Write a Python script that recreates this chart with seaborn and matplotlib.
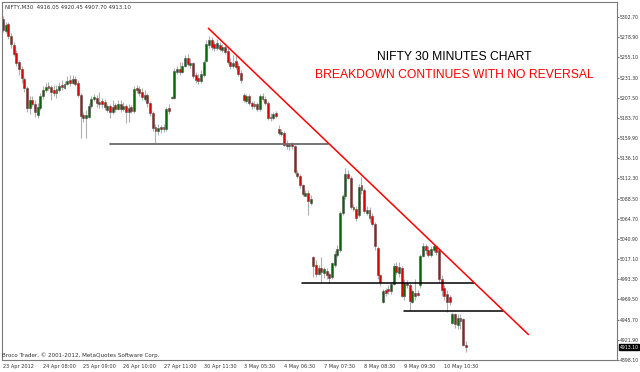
import numpy as np
import pandas as pd
import matplotlib
matplotlib.use("Agg")
import matplotlib.pyplot as plt
import matplotlib.transforms as mtransforms
import seaborn as sns

# NIFTY M30 candles, 23 Apr - 11 May 2012
opens = [5300, 5286, 5294, 5280, 5270, 5260, 5250, 5241, 5230, 5219,
         5195, 5205, 5200, 5187, 5195, 5210, 5217, 5221, 5220, 5217,
         5213, 5217, 5223, 5219, 5224, 5228, 5225, 5230, 5225, 5211,
         5187, 5183, 5185, 5198, 5206, 5207, 5203, 5204, 5203, 5193,
         5198, 5191, 5199, 5194, 5200, 5194, 5198, 5191, 5197, 5192,
         5219, 5218, 5214, 5206, 5211, 5201, 5190, 5173, 5168, 5173,
         5170, 5171, 5195, 5207, 5207, 5238, 5241, 5238, 5245, 5254,
         5246, 5248, 5234, 5231, 5227, 5234, 5251, 5270, 5276, 5271,
         5266, 5270, 5264, 5267, 5263, 5250, 5245, 5251, 5245, 5237,
         5211, 5204, 5210, 5201, 5198, 5200, 5194, 5210, 5206, 5201,
         5185, 5183, 5190, 5171, 5165, 5166, 5153, 5150, 5153, 5150,
         5119, 5115, 5104, 5092, 5095, 5083, 5019, 5010, 5000, 5007,
         5001, 5003, 4999, 4996, 5010, 5022, 5028, 5072, 5091, 5118,
         5113, 5079, 5076, 5069, 5104, 5099, 5072, 5075, 5068, 5059,
         5030, 4998, 4967, 4981, 4982, 4979, 4988, 5009, 5001, 5007,
         4973, 4989, 4987, 4967, 4977, 4977, 4986, 5021, 5033, 5028,
         5022, 5028, 5032, 5028, 4994, 4983, 4976, 4972, 4942, 4952,
         4939, 4948, 4946, 4916.05]
highs = [5304, 5297, 5297, 5284, 5273, 5264, 5252, 5245, 5232, 5221,
         5210, 5210, 5205, 5201, 5213, 5221, 5225, 5226, 5223, 5223,
         5223, 5226, 5228, 5227, 5233, 5234, 5234, 5233, 5228, 5213,
         5191, 5193, 5201, 5210, 5212, 5211, 5214, 5207, 5206, 5200,
         5200, 5205, 5201, 5205, 5205, 5203, 5200, 5200, 5199, 5221,
         5223, 5221, 5219, 5216, 5213, 5204, 5192, 5177, 5177, 5175,
         5177, 5197, 5200, 5210, 5243, 5245, 5250, 5250, 5258, 5259,
         5254, 5250, 5238, 5236, 5240, 5252, 5276, 5280, 5279, 5274,
         5277, 5273, 5271, 5270, 5266, 5254, 5258, 5258, 5248, 5240,
         5213, 5212, 5212, 5204, 5204, 5203, 5212, 5213, 5210, 5204,
         5190, 5191, 5192, 5175, 5170, 5168, 5158, 5154, 5155, 5152,
         5122, 5118, 5106, 5099, 5099, 5093, 5021, 5016, 5010, 5019,
         5008, 5007, 5002, 5014, 5027, 5034, 5074, 5094, 5125, 5122,
         5115, 5082, 5080, 5106, 5114, 5101, 5080, 5079, 5072, 5061,
         5033, 5000, 4982, 4983, 4986, 4990, 5012, 5014, 5014, 5009,
         4993, 4992, 4989, 4982, 4993, 4981, 5023, 5036, 5035, 5033,
         5033, 5035, 5031, 5030, 4998, 4987, 4981, 4975, 4955, 4954,
         4952, 4952, 4948, 4920.45]
lows = [5285, 5284, 5277, 5266, 5257, 5245, 5234, 5225, 5214, 5191,
        5188, 5198, 5185, 5184, 5193, 5206, 5214, 5216, 5205, 5210,
        5207, 5214, 5217, 5218, 5223, 5221, 5224, 5221, 5208, 5160,
        5179, 5160, 5183, 5195, 5204, 5197, 5195, 5195, 5193, 5191,
        5184, 5188, 5191, 5193, 5191, 5192, 5178, 5179, 5190, 5190,
        5213, 5210, 5205, 5204, 5197, 5186, 5168, 5154, 5164, 5166,
        5167, 5168, 5188, 5206, 5206, 5236, 5234, 5237, 5244, 5245,
        5243, 5231, 5225, 5224, 5225, 5232, 5250, 5266, 5264, 5263,
        5264, 5263, 5261, 5259, 5247, 5241, 5243, 5241, 5233, 5225,
        5203, 5201, 5199, 5194, 5195, 5192, 5192, 5204, 5199, 5181,
        5180, 5181, 5184, 5164, 5162, 5150, 5147, 5146, 5147, 5118,
        5113, 5101, 5092, 5091, 5069, 5081, 4996, 4996, 4998, 4990,
        4995, 4994, 4989, 4994, 5008, 5019, 5026, 5069, 5088, 5111,
        5076, 5074, 5062, 5067, 5094, 5072, 5069, 5061, 5056, 5028,
        4994, 4985, 4965, 4974, 4976, 4976, 4986, 4999, 4996, 4972,
        4969, 4983, 4957, 4965, 4969, 4973, 4983, 5019, 5023, 5019,
        5020, 5025, 5022, 4989, 4973, 4969, 4955, 4963, 4940, 4936,
        4935, 4934, 4915, 4907.70]
closes = [5287, 5293, 5280, 5271, 5259, 5248, 5241, 5231, 5219, 5195,
          5205, 5200, 5191, 5197, 5210, 5217, 5220, 5219, 5214, 5213,
          5218, 5221, 5220, 5224, 5227, 5225, 5230, 5224, 5211, 5186,
          5183, 5187, 5198, 5206, 5208, 5201, 5200, 5200, 5197, 5198,
          5191, 5197, 5194, 5200, 5194, 5198, 5191, 5195, 5192, 5218,
          5217, 5213, 5208, 5211, 5201, 5190, 5172, 5168, 5172, 5170,
          5173, 5194, 5192, 5208, 5239, 5241, 5238, 5245, 5254, 5247,
          5248, 5233, 5228, 5227, 5236, 5250, 5271, 5276, 5267, 5266,
          5272, 5265, 5267, 5261, 5250, 5245, 5248, 5244, 5236, 5228,
          5205, 5210, 5201, 5198, 5200, 5194, 5210, 5206, 5201, 5184,
          5183, 5188, 5186, 5166, 5167, 5152, 5151, 5152, 5150, 5120,
          5115, 5104, 5094, 5095, 5086, 5088, 5009, 5000, 5007, 5002,
          5005, 4998, 4995, 5012, 5023, 5029, 5072, 5091, 5117, 5113,
          5079, 5076, 5066, 5102, 5098, 5074, 5075, 5065, 5059, 5032,
          4998, 4990, 4980, 4977, 4979, 4988, 5009, 5002, 5008, 4974,
          4989, 4987, 4968, 4979, 4974, 4975, 5021, 5033, 5028, 5022,
          5029, 5032, 5026, 4993, 4981, 4973, 4967, 4967, 4952, 4940,
          4948, 4944, 4916, 4913.10]

date_ticks = [0, 15, 30, 45, 60, 75, 90, 105, 120, 135, 150, 165]
date_labels = ["23 Apr 2012", "24 Apr 08:00", "25 Apr 09:00", "26 Apr 10:00",
               "27 Apr 11:00", "30 Apr 11:30", "3 May 05:30", "4 May 06:30",
               "7 May 07:30", "8 May 08:30", "9 May 09:30", "10 May 10:30"]
price_ticks = [5302.70, 5278.90, 5255.10, 5231.30, 5207.50, 5183.70,
               5159.90, 5136.10, 5112.30, 5088.50, 5064.70, 5040.90,
               5017.10, 4993.30, 4969.50, 4945.70, 4921.90, 4898.10]

# drawn lines (bar index, price)
trend_x = [76.75, 196.4]
trend_y = [5289.4, 4928.0]
support1_x = [40.0, 121.5]
support1_y = [5153.4, 5153.4]
support2_x = [111.7, 176.1]
support2_y = [4988.9, 4988.9]
support3_x = [149.9, 186.8]
support3_y = [4955.5, 4955.5]

df = pd.DataFrame({"open": opens, "high": highs, "low": lows, "close": closes})
df["bar"] = np.arange(len(df))
up = df["close"] >= df["open"]

sns.set_style("white")
plt.rcParams["font.family"] = ["DejaVu Sans"]

fig = plt.figure(figsize=(6.4, 3.72), dpi=100)
ax = fig.add_axes([2 / 640, 12 / 372, 615 / 640, 358 / 372])

# wicks then bodies
ax.vlines(df["bar"], df["low"], df["high"], color="#b0b0b0", linewidth=0.8, zorder=1)
ax.bar(df["bar"], (df["close"] - df["open"]).abs().clip(lower=0.4),
       bottom=df[["open", "close"]].min(axis=1), width=0.72,
       color=np.where(up, "#006a00", "#dd0000"), edgecolor="#505050",
       linewidth=0.4, zorder=2)

sns.lineplot(x=support1_x, y=support1_y, ax=ax, color="#6a6a6a", linewidth=1.3, zorder=3)
sns.lineplot(x=support2_x, y=support2_y, ax=ax, color="black", linewidth=1.1, zorder=3)
sns.lineplot(x=support3_x, y=support3_y, ax=ax, color="black", linewidth=1.1, zorder=3)
sns.lineplot(x=trend_x, y=trend_y, ax=ax, color="red", linewidth=1.1, zorder=3)

ax.set_xlim(-0.37, 229.5)
ax.set_ylim(4898.0, 5320.4)

ax.yaxis.tick_right()
ax.set_yticks(price_ticks)
ax.set_yticklabels([f"{v:.2f}" for v in price_ticks])
ax.set_xticks(date_ticks)
ax.set_xticklabels(date_labels, ha="left")
ax.tick_params(axis="y", length=1.5, width=0.6, pad=0.6, labelsize=3.3,
               colors="#555555", labelcolor="#333333")
ax.tick_params(axis="x", length=2, width=0.6, pad=1, labelsize=3.6,
               colors="#555555", labelcolor="#333333")
for s in ax.spines.values():
    s.set_color("#7a7a7a")
    s.set_linewidth(0.8)
ax.set_xlabel("")
ax.set_ylabel("")

# last price box on the price scale
trans = mtransforms.blended_transform_factory(ax.transAxes, ax.transData)
ax.text(1.004, closes[-1], f"{closes[-1]:.2f}", transform=trans, ha="left", va="center",
        fontsize=3.3, color="white",
        bbox=dict(facecolor="black", edgecolor="black", pad=0.5))

fig.text(5 / 640, 1 - 7 / 372,
         f"NIFTY,M30  {opens[-1]:.2f} {highs[-1]:.2f} {lows[-1]:.2f} {closes[-1]:.2f}",
         ha="left", va="center", fontsize=3.9, color="#333333")
fig.text(2.5 / 640, 1 - 355 / 372, "Broco Trader, \u00a9 2001-2012, MetaQuotes Software Corp.",
         ha="left", va="center", fontsize=4.1, color="#333333")

fig.text(454 / 640, 1 - 57 / 372, "NIFTY 30 MINUTES CHART", ha="center", va="center",
         fontsize=8.7, color="black", family=["Liberation Sans", "DejaVu Sans"])
fig.text(454 / 640, 1 - 75 / 372, "BREAKDOWN CONTINUES WITH NO REVERSAL", ha="center",
         va="center", fontsize=8.7, color="#ff0000", family=["Liberation Sans", "DejaVu Sans"])

fig.savefig("out.png", dpi=100, facecolor="white")
